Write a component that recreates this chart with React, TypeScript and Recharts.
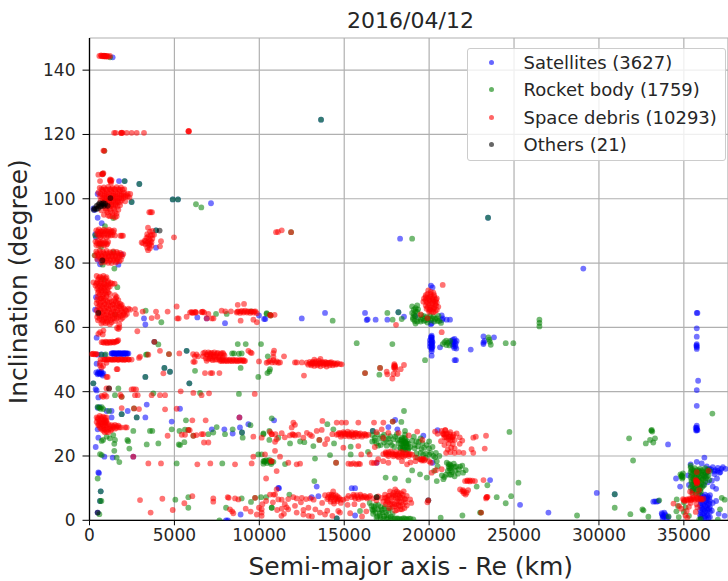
import React from "react";
import {
  ScatterChart,
  Scatter,
  XAxis,
  YAxis,
  CartesianGrid,
  Legend,
} from "recharts";

const FONT = "'DejaVu Sans', sans-serif";
const xTicks = [0, 5000, 10000, 15000, 20000, 25000, 30000, 35000];
const yTicks = [0, 20, 40, 60, 80, 100, 120, 140];

// [semi-major axis km, inclination deg]
const satellites = [
  [1365,144],[480,101.5],[1740,105.5],[2070,105.5],[2935,104.6],[2480,99],[4900,99.8],[5210,99.8],[7155,98.6],
  [230,97],[300,96.5],[480,94.1],[720,92.4],[340,89],[380,88],[1895,82.7],[1700,79.5],[620,79.6],[480,81],[3917,90.2],[3917,84.8],
  [13635,124.6],[18290,87.6],[23470,94.1],[29080,78.3],[383,69.4],[330,65.5],[3210,62.8],[3290,60.9],[6350,63.1],[6900,62.8],[7980,61.3],[9980,63.7],[10355,62.6],[420,56.8],
  [1300,51.9],[1390,51.9],[1480,52],[1570,51.8],[1660,51.9],[1750,52],[1840,51.8],[1930,51.9],[2020,52],[2110,51.8],[2200,51.9],[2290,51.9],[1450,51.4],[1700,51.4],[2000,51.4],
  [480,51.5],[700,51.6],[900,51.4],[5720,52.7],[420,48.7],[400,46],[480,45.4],[560,46.3],[620,45.6],[700,46.2],[780,45],[815,45.7],[4410,47.4],[4740,46.2],[3290,44.6],[5880,42.6],[3820,55.5],
  [225,42.6],[360,40.8],[420,40.4],[520,38.2],[480,35],[600,35.2],[1010,34],[1300,34],[1895,33],[2250,34],[3370,36],[1300,32],[2780,32],[3290,32],[4840,30.7],[5330,34.7],[8830,32],
  [480,28.3],[520,25.7],[365,22.8],[875,19.8],[1365,19.5],[2580,19.8],[7200,28.3],[7940,28.3],[8430,27],[8860,28.9],[8980,27.3],[9355,29.9],[10870,31.1],[520,14.9],[560,14.7],[660,9],[620,6],[480,2.4],[8040,0],[8150,0],[8900,1.8],[11120,10.1],
  [10280,62.6],[12500,62.8],[13870,64.5],[16225,64.5],[16325,62.3],[16380,62.5],[16850,62.4],[17540,62.4],[18190,64.7],[18520,63.3],
  [20110,73],[20200,72.4],[20150,61.3],[20100,61],[20740,63.7],[20800,62.8],[20760,62.3],[21030,62.4],[21230,62.4],[19200,63.5],
  [20150,57.4],[20150,56.8],[20150,56.2],[20150,55.6],[20150,55],[20150,54.4],[20150,53.8],[20150,53.2],[20150,52.6],[20150,51.2],[20050,56],[20050,55],[20050,54],
  [20640,53.8],[21330,55.8],[21400,56.2],[21500,56.4],[21620,55.8],[21560,55],[21420,54.2],[21480,53.6],[21600,53.4],[21350,54.8],[22450,53.1],[21580,49.8],[21500,49.8],
  [18000,31.2],[17600,29],[18130,28.3],[16680,27.8],[19660,26.3],[20210,17.9],[20500,28],[16910,17.9],[13380,10.5],[11160,10],[13085,7.2],[13480,7.5],[15640,10],[15440,10],[15640,1.5],[14560,.6],[19950,6.2],
  [23200,57.2],[23200,55.3],[23260,55.8],[23200,54.8],[23820,56.9],[35760,64.5],[35800,64.5],[35760,59.7],[35760,57.1],[35760,54.8],[35760,54.2],[35760,53.8],[35760,53.3],[35840,43.4],[35760,40.5],[35760,35.6],[35760,29.4],[35700,28.8],[35760,28.4],[35720,27.9],[35800,28],
  [34070,23.6],[23590,12.5],[25355,4.8],[27025,2.4],[29870,8.5],[30930,8.1],[33200,5.8],[33300,5.9],[33400,5.8],[33500,6],[33700,2.2],[33800,1.2],[33900,1.8],[34000,.8],[33750,.8],[33850,2.4],[34090,1],
  [34540,13],[34780,10.5],[36210,19.5],[35760,18.2],[35400,17.4],[36050,17.7],[36350,16.8],[36500,16],[36700,16.5],[36850,15.6],[37000,16.3],[37150,15],[37300,16.5],[37450,16],[36800,14.4],[37100,14.8],[36400,15],[36950,13],[36650,12.3],[36250,13.6],[36400,11.8],[36700,10.5],[36900,9.8],[36150,11],
  [35960,8],[36100,7.6],[36250,8],[36400,7.5],[36540,7.8],[35960,6.2],[36100,6.6],[36250,6],[36400,6.4],[36540,6],[35960,4.6],[36100,5],[36250,4.4],[36400,4.8],[36540,4.2],[35960,3.2],[36100,3.4],[36250,2.8],[36400,3.3],[36540,2.6],[35960,1.6],[36100,1.9],[36250,1.2],[36400,1.6],[36000,.4],[36300,.4],[36540,1],
  [36700,5.4],[36650,3],[37050,2],[37400,1.4],[35300,11],[35250,14],[35500,9.3],[36900,6],
];

// overlapping objects where the picture saturates to solid blue
const satelliteCores = [
  [1320,51.9],[1420,52],[1520,51.8],[1620,52],[1720,51.8],[1820,52],[1920,51.8],[2020,51.9],[2120,52],[2220,51.8],[500,45.8],[580,45.6],[650,46],[740,45.5],
  [20150,57],[20150,56],[20150,55.2],[20150,54.6],[20150,53.6],[20100,57],[20200,55.4],[20200,54],[21400,55.4],[21500,55.6],[21450,54.8],[21550,54.2],[33760,1.4],[33850,1],[33950,1.4],[33720,1.8],
  [36000,7],[36200,7.2],[36350,6.9],[36500,7],[36000,5.4],[36200,5.4],[36350,5.6],[36500,5.2],[36050,3.9],[36200,3.6],[36350,3.9],[36500,3.6],[36000,2.4],[36200,2.2],[36350,2.4],[36000,1],[36200,.8],[36450,.8],[36600,15.8],[36800,15.2],[37000,15.4],[37200,16],
  [35760,28.2],[35760,28.8],[35740,54.4],
];

const rocketBodies = [
  [1210,144],[875,144.4],[875,114.9],[775,107.8],[2070,105.5],[2935,104.6],[2480,99],[4900,99.8],[5210,99.8],[6270,98.3],[6585,97.3],[910,91.5],[1400,94],[340,88.6],[600,86],[680,85],[300,82.4],[1463,78.3],[780,79.5],[1400,83.4],[11870,89.6],
  [3917,90.2],[13635,124.6],[19000,87.6],[23470,94.1],[800,75],[1640,72.5],[3308,65.2],[4230,61.6],[7450,64.2],[8080,64.2],[9500,65],[10430,64.2],[10670,63.7],[1500,64],[4055,54.7],[3820,55.5],[3330,51.5],[3400,51.6],[4680,51.7],[10100,54.8],[8400,51.9],[8510,51.9],[8800,51.8],[8960,51.9],[8730,54.8],[9200,54.8],
  [700,51.5],[950,51.6],[5720,52.7],[10500,51],[10630,47],[10475,45.8],[10590,46.3],[9940,44.6],[8900,47.4],[6214,46.5],[4410,47.4],[4740,46.2],[3290,44.6],[5880,42.6],[225,42.6],[1700,41],[1500,38.9],[1895,38.4],[3760,39.5],[6510,39.6],[8800,39.3],
  [480,35.3],[560,35],[650,34.7],[720,35.2],[815,34.6],[1150,34],[1895,33],[2780,32],[2620,34.8],[1010,26],[1200,25.5],[1400,26.5],[1500,25],[715,24.7],[800,25],[2230,25],[2280,24.6],[2580,27.8],[1460,23.8],[2347,22.3],[1460,21.6],[1600,19.5],[1757,18.1],[620,20.6],[720,20.3],[3370,23.6],[4055,23.9],[3560,27.8],[3700,27.8],[4840,28.3],[5300,27.8],[5680,31.1],[5330,23.4],[5260,23.6],[5585,24.3],[5820,28.1],[6115,26.3],[5620,28.2],[7000,26.8],[7290,27.3],[7490,29],[7980,26.8],[8430,28.3],[8980,27.3],[9020,25.7],[9480,29.6],[10240,27],[10590,27.8],[10590,25],[10730,31.7],
  [5134,17.7],[7820,17.7],[9940,20.5],[10140,20.5],[10300,18.5],[10450,17.8],[10600,18.8],[10700,17.5],[10830,18.2],[10240,17.6],[480,13],[660,9],[620,6],[700,6],[580,1.9],
  [5055,6.4],[5820,7.2],[5820,3.9],[8960,6.8],[8040,3.9],[7650,0],[9510,5.7],[9750,7],[10100,7.2],[10400,7.2],[10730,3.9],
  [10435,64.4],[10630,63.9],[14320,62.1],[17540,64.5],[17850,62.4],[18190,64.7],[18385,62.6],
  [19000,66.5],[19100,65.5],[19000,64.5],[19150,63.5],[19050,62.5],[19300,66.8],[19300,64.8],[19350,63],[19300,61.8],[19550,63.8],[19500,62.4],[19700,63.5],[19700,62],[19850,63.2],[19900,61.5],[20050,63.6],[20100,62.2],[20250,63.4],[20300,61.8],[20450,62.8],[20550,63.6],[20600,62],[20700,61.4],[19200,61.2],
  [15735,55.1],[17835,54.8],[19760,49.8],[20800,54.8],[20900,55.4],[21000,55.9],[21100,55.2],[21200,54.4],[21020,54.5],[21230,55.8],[17110,47.4],[17070,45.3],[16225,45.8],
  [18520,34],[17855,30.7],[18365,30.6],[14007,29.9],[14360,28.3],[10240,26.8],[11120,25.7],[11810,23.9],[12400,24.5],[12650,24.3],[13536,25],[13183,23.1],[14400,23.9],[15380,22.9],[18580,27.8],[16680,27.8],
  [16650,26.5],[16800,25.6],[16650,24.5],[16900,24],[16950,26.8],[17100,25.4],[17150,23.4],[17350,26.6],[17450,25],[17500,23.2],[17700,26.2],[17700,24.2],[17900,25.2],[17950,22.8],[18100,26.8],[18200,24],[18300,22.4],
  [18300,25],[18400,25.7],[18500,24.8],[18600,25.2],[18700,24.6],[18350,23.8],[18500,23.6],[18650,23.4],[18800,23.8],[18880,22.8],[18300,22.6],[18450,22.2],[18600,22],[18750,21.8],[18580,26.6],[18580,24],
  [19100,26],[19250,24.5],[19350,23],[19150,22.4],[19500,25.5],[19600,24],[19700,22.6],[19500,21],[19800,20.8],[20000,24.5],[20000,22.4],[20100,21],[20250,20],[20350,19.6],[19300,19.5],[19800,19.4],[20450,18.4],
  [21040,17.9],[21150,17.5],[21230,17.4],[21300,16.9],[21450,17.6],[21600,16.8],[21820,16.7],[21950,17],[21200,16.2],[21100,15.4],[21350,15],[21550,15.4],[21700,14.5],[21200,14.2],[21500,13.7],[22000,14.8],[20840,12.8],[20900,13.5],[20450,12.2],[19857,13.3],[19465,14.3],[19000,15.5],[18780,12.4],[17440,13.3],[17990,13],[13240,12.2],[14165,20.3],[13280,19.2],[14520,17.9],[11514,17.5],[10240,18.4],[10400,18.7],[10730,18.2],[15380,20.5],[16400,21.3],[22800,10.5],[20680,.8],[21960,1.5],[23000,2.4],
  [16910,7.2],[10730,3.9],[11770,8],[15930,2.9],[14560,.6],[19950,6.2],
  [16600,4.5],[16800,3.4],[16700,2],[16950,1.2],[17000,4.8],[17200,3.2],[17150,.6],[17400,4.2],[17450,2.4],[17600,.9],[17700,3.6],[17850,2],[17900,.4],[18100,.6],[18300,.3],[18500,.7],[18700,.3],[18900,.5],[19070,.3],[16500,5.4],[17100,2.2],[17350,1.2],
  [26494,62.4],[26494,61.4],[26494,60.3],[23490,56.9],[23540,56.2],[23580,55.5],[23630,54.6],[24510,55.1],[24960,55.1],[36680,33.2],[24730,27.5],[31775,25.5],[33110,28.1],[33140,27.6],[33080,27.9],[33300,25.5],[33010,25],[32760,23.9],[33200,24.2],[32010,18.6],
  [23430,10.9],[23980,7.2],[25260,11.7],[24825,7.5],[24510,5.3],[23060,2.4],[28710,1.5],[30930,8.1],[30930,3.9],[31850,1.9],[32620,3.1],[32560,3.4],[32910,1.1],[33550,6.2],[34580,6.5],[34560,2.8],[34650,4.5],[34700,1],[34100,1.2],
  [34880,13.8],[34800,14.3],[34900,13],[34950,14.6],[35400,16.4],[35500,15.8],[35650,16.2],[35800,15.7],[35950,16],[36100,15.6],[36250,16.2],[36400,15.8],[36540,15.3],
  [35400,15],[35550,14.6],[35700,14.8],[35850,14.4],[36000,14.8],[36150,14.2],[36300,14.6],[36450,14],[35400,13.4],[35550,13],[35700,13.3],[35850,12.8],[36000,13.2],[36150,12.7],[36300,13.1],[36500,12.5],
  [35450,11.8],[35600,11.4],[35750,11.7],[35900,11.2],[36050,11.6],[36200,11],[35400,10.2],[35550,9.9],[35700,10.1],[35850,9.6],[36000,10],[35500,8.6],[35700,8.4],[35850,8.1],[36000,8.8],[35000,5.6],[35100,4],[35000,2.6],[35300,1.4],[35900,.2],[36000,.4],[37230,7],[37130,3.4],[37400,6.4],[37000,.2],[35400,17],
];

// overlapping objects where the picture saturates to solid dark green
const rocketCores = [
  [16700,3],[16850,2.4],[17000,3.4],[17100,1.4],[17250,2.4],[17350,3.6],[17500,1.6],[17600,3],[17750,1.2],[16900,.8],[17300,.4],[17500,.4],[17750,.4],[18000,.5],[18200,.5],[18400,.4],[18600,.5],[18800,.5],[16750,4.2],[16850,4.8],[17150,4.2],[16650,3.4],
  [18400,24.6],[18500,24],[18600,24.4],[18700,23.8],[18450,23],[18550,22.8],[18700,22.8],[18400,25.2],[18550,25.6],[18650,24],[18800,22.4],[18500,21.8],
  [16800,24.8],[17000,23.2],[17250,26],[17350,24.2],[17600,25.4],[17800,23.4],[18000,26],[18150,25],[19000,24.8],[19150,23.4],[19400,24.4],[19550,22.2],[19850,23.4],[19250,20.8],[19650,20.4],[20000,20.4],[20200,22.8],[20400,21],[20600,20],[20500,16.8],[20750,14],[20300,15.4],[21000,14.2],[21300,14.2],[21750,15.8],[22150,15.6],
  [19100,64],[19200,65],[19350,65.6],[19500,61.8],[19650,62.8],[19800,62.2],[19950,62.6],[20150,62.8],[20350,62.6],[19050,63],[19150,62],[19200,66],[20500,62],
  [35450,15.6],[35600,15.4],[35750,15.2],[35900,15.4],[36050,15.2],[36200,15],[36350,15.2],[35450,14],[35600,13.8],[35750,14],[35900,13.6],[36050,14],[36200,13.6],[36350,13.6],[35450,12.4],[35600,12.2],[35750,12.6],[35900,12.2],[36050,12.4],[36250,12],[35500,11],[35650,10.8],[35800,10.8],[35950,10.6],[36100,10.4],[35550,9.4],[35750,9.2],[35950,9.2],[34880,14],[34940,13.4],[34840,13.6],
  [10300,18.2],[10500,18.4],[10650,18],[21150,16.8],[21300,16.4],[21500,16.6],[21250,15.6],
];

const spaceDebris = [
  [580,144.4],[680,144.6],[760,144.3],[850,144.5],[930,144.2],[1010,144.4],[1100,144.2],[1200,144.4],
  [1540,120.5],[1855,120.5],[1900,120.6],[1950,120.5],[2190,120.5],[2480,120.5],[2780,120.5],[3210,120.5],[5820,121],[5860,121],[875,114.9],[820,115],[775,107.8],[730,107.6],[820,108],[520,107.5],[620,105.5],[1200,105.7],[1247,105.7],[1300,105.8],[1270,105],
  [10985,89.6],[11100,89.7],[11320,90.2],[11870,89.6],[3820,55.5],
  [600,103.4],[850,103.5],[1100,103.7],[1350,103.4],[1600,103.6],[1850,103.5],[2050,103],[530,102],[780,102.4],[1030,102],[1280,102.4],[1530,102],[1780,102.3],[2030,101.9],[2250,101.6],[2400,101.5],[620,100.8],[870,101],[1120,100.6],[1370,101],[1620,100.7],[1870,101],[2120,100.6],[2350,100.4],[650,99.3],[900,99.6],[1150,99.3],[1400,99.6],[1650,99.3],[1900,99.5],[2100,99.2],[800,98.2],[1050,98.3],[1300,98.2],[1550,98.4],[1800,98],[550,97.6],[950,97],[1200,96.9],[1450,97],[1700,96.6],[700,96.4],[1050,95.8],[1350,95.6],[1600,95.4],[850,95],[1200,94.6],[1500,94.2],
  [3520,95.8],[3600,95.8],[3680,95.8],
  [400,90.2],[550,90.5],[700,90],[850,90.4],[1000,90.1],[1150,90.4],[1300,90],[1450,90.2],[450,89],[600,89.2],[750,88.9],[900,89.2],[1050,88.9],[1200,89.1],[1350,88.8],[1500,88.6],[1820,88.5],[1895,88.5],[1970,88.5],[650,88.1],[1000,88],
  [3445,91],[3560,89.8],[3700,90],[3400,89],[3600,88.6],[3800,88.8],[3350,87.8],[3520,87.5],[3700,87.6],[3250,87],[3450,86.6],[3650,86.5],[3070,86.4],[3150,86.2],[3300,85.8],[3500,85.6],[3650,85.4],[3400,84.8],[3550,84.6],[3450,84],[4150,85.2],[4210,86.8],[4976,88],
  [350,86.7],[500,87],[650,86.6],[800,87],[950,86.5],[1100,86.6],[400,85.6],[550,85.5],[700,85.8],[850,85.5],[1000,85.7],
  [400,83.6],[600,83.9],[800,83.5],[1000,83.8],[1200,83.4],[1400,83.6],[1600,83.5],[1800,83.2],[1990,82.8],[330,82.4],[520,82.6],[720,82.3],[920,82.7],[1120,82.3],[1320,82.6],[1520,82.3],[1720,82.5],[1920,82.1],[450,81.3],[650,81.5],[850,81.2],[1050,81.5],[1250,81.2],[1450,81.4],[1650,81.2],[1850,81],[700,80.2],[900,80.4],[1100,80.1],[1300,80],[1550,80.2],
  [420,76],[620,75.8],[820,76],[1000,75.6],[500,74.8],[700,74.9],[900,74.6],[1100,74.4],[230,74],[450,74],[650,74.2],[850,73.6],[1050,74],[1250,73.8],[1480,73.6],[350,73],[600,73],[800,72.8],[1000,73],[1200,72.7],
  [450,72],[650,71.8],[850,72],[1050,71.6],[500,70.8],[700,71],[900,70.6],[1100,70.9],[1200,70.4],[500,69.6],[750,69.5],[1000,69.6],[1500,70],[1600,69.5],[1550,69],
  [450,68.6],[700,68.9],[950,68.5],[1200,68.8],[1450,68.4],[1700,68.5],[420,67.5],[650,67.6],[900,67.4],[1150,67.7],[1400,67.3],[1650,67.5],[1900,67],[500,66.4],[750,66.6],[1000,66.3],[1250,66.6],[1500,66.2],[1750,66.5],[2000,66],[2300,65.8],[2390,65.5],[420,65.3],[650,65.4],[900,65.2],[1150,65.5],[1400,65],[1650,65.3],[1900,65],[2150,65.2],[500,64.2],[750,64.4],[1000,64],[1250,64.3],[1500,64],[1750,64.1],[2000,64],[2200,64.2],[450,63.2],[700,63.3],[950,63],[1200,63.3],[1450,63],[1700,63.2],[1950,63],[500,62.2],[750,62.3],[1000,62.1],[1250,62.3],[700,61.2],[950,61.3],[1200,61],[1750,61],[1500,62],
  [1700,59.5],[1620,59.8],[1760,60],[620,58.5],[820,59],[520,58],[780,57.8],[2680,65.7],[2740,64.2],[3130,64.9],[3660,62.9],[3917,64.9],[3995,63.3],[2817,58.8],[4600,64.9],[5134,66.5],[5170,62.8],[5250,62.8],[5720,63.3],[5920,64.6],[6000,64.8],[6100,64.5],[6200,64.7],[6270,64.6],[6600,64.8],[6680,64.9],[6760,64.6],[6900,62.8],[7200,62.8],[7300,62.8],[7000,64.2],[7780,65.2],[8000,65],[8330,65],[8730,67],[9100,67.3],[8900,62.1],[9650,62.4],[9850,61.6],
  [8670,64.6],[8770,65],[8870,64.5],[8970,65.1],[9070,64.6],[9170,65.2],[9270,64.6],[9370,65],[9470,64.5],[9570,65],[9670,64.6],[9770,65],[9850,64.4],[10670,63.7],[10630,63.9],[10900,63.9],
  [715,55.4],[850,55.2],[950,55.6],[1050,55.1],[1150,55.5],[1250,55.2],[1350,55.6],[1450,55.3],[1550,55.6],[1640,55.8],[1690,56],[130,51.7],[220,51.8],[320,51.6],[420,51.7],[650,50],[620,49],[800,48],[815,50],[920,50],[1020,49.9],[1120,50.1],[1220,50],[1320,50],[1420,49.9],[1520,50.1],[1620,50],[1720,49.9],[1820,50.1],[1920,50],[2020,49.9],[2120,50],[2220,50.1],[2320,50],[2480,50],[1000,49],[700,47.5],[2915,50.5],[2975,50.9],[3465,51.5],[4150,52.7],[4680,51.7],[5290,51.9],[6100,51.7],[6200,51],[6300,51.6],[6400,51],[6115,49.3],[6200,49.3],[1600,47],[1650,47],[1070,44.6],[1000,44.6],[620,48.2],
  [6700,52],[6700,51],[6850,50.4],[6800,52.2],[6950,51.4],[7000,52.2],[7100,50.4],[7150,51.6],[7200,52.1],[7300,50.9],[7350,52.2],[7450,51.4],[7550,52.1],[7650,51],[7750,51.9],[7850,52.1],[7950,51.2],[7000,50.2],[7250,49.8],[7500,50],[7750,50],[6900,49.6],
  [7690,49.6],[7800,49.5],[7900,49.7],[8000,49.6],[8100,49.5],[8200,49.7],[8300,49.6],[8400,49.5],[8500,49.7],[8600,49.6],[8700,49.5],[8800,49.6],[8900,49.7],[9000,49.6],[9100,49.5],[9160,49.6],[9355,52.7],[9480,52.2],[9550,52],[9980,49.4],[6800,45.8],[7135,45.8],[7230,45.8],[7650,45.8],[4350,45.7],
  [10430,49],[10530,49.3],[10630,49.6],[10730,49.1],[10830,49.8],[10930,49.1],[11030,49.4],[11130,49],[11220,49.1],[10830,52],[10870,52.8],[10830,50.8],[11455,51],[12100,49.1],[12500,49.1],[12630,45],[12200,49.1],
  [12790,49],[12880,48.4],[12970,49.3],[13060,48.2],[13150,49.3],[13240,48],[13330,49.4],[13420,48.2],[13510,49.6],[13600,47.9],[13690,49.2],[13780,48.3],[13870,49.3],[13960,47.8],[14050,49],[14140,48.2],[14230,49.2],[14320,48.2],[14410,48.9],[14500,48.4],[14600,48.9],[14750,48.6],[14850,48.5],[13240,50],[13600,50.2],[13100,48.7],[13500,48.7],[13900,48.6],
  [16225,45.8],[17110,47.4],[17500,46.2],[17540,45.4],[17835,44.1],[17950,48.6],[18000,48],[17920,47.5],[18000,47],[18130,45.5],[17900,45.5],[18325,47],[18520,48.3],
  [19800,70],[19950,71.5],[20100,71],[20250,70.8],[19700,69],[19900,69],[20100,69.6],[20300,69.4],[20450,69],[19660,68],[19850,67.8],[20050,68.2],[20250,68],[20450,67.7],[19800,66.8],[20000,67],[20200,66.6],[20400,66.8],[20540,66.4],[19850,65.8],[20050,65.6],[20250,65.8],[20450,65.4],[20000,64.8],[20250,64.7],[20800,73.2],[20740,58.5],[18050,60.8],[19500,64],[19900,62.9],
  [1000,41],[1150,41],[2480,40.7],[2600,40.8],[2740,40.7],[2680,38.9],[2840,38.9],[715,38.7],[800,38.4],[900,39],[1000,38.5],[1895,38.4],[1820,39],[3660,38.9],[4150,38.9],[4450,38.9],[5370,40.1],[6115,39.6],[6600,38.9],[7040,39.5],[9730,39.3],[1895,34.9],[2620,34.8],[2915,34.6],[4450,34.5],[5134,34.7],
  [420,32],[600,32.5],[800,32.2],[1000,32],[500,31.4],[700,31.5],[900,31.2],[1000,31],[420,30.6],[620,30.4],[820,30.4],[1000,30.5],[520,29.6],[700,29.9],[900,29.6],[1100,29.9],[1300,29.6],[1500,29.7],[1700,29.4],[620,28.8],[800,28.6],[1000,28.9],[1200,28.6],[1400,28.9],[1600,28.8],[1850,28.9],[2190,28.9],[2100,28.9],[800,27.9],[1000,27.7],[1250,27.9],
  [3465,17.7],[4210,17.7],[6350,17.4],[7115,17.7],[8570,17.4],[9550,17.7],[9650,19.8],[10690,18.5],[11020,15.3],[10400,13],[2580,19.8],[2975,6.3],[4290,6.7],[3600,2.4],[4900,3.2],[6055,7.5],[5585,5.3],[7290,6.8],[7290,5.8],[8140,7.2],[8200,7],[8570,6.8],[8765,6.5],[8270,3.4],[8470,2.2],[8400,2.8],[9200,3.6],[9490,2.7],[9750,7],[9845,1.8],[10140,2.4],[9980,3.9],[10180,5],[10830,8],[11020,9.6],[11120,6.5],
  [4600,26.3],[5430,26.6],[5625,26.6],[5820,28.1],[5900,28],[6055,31.1],[6840,31.1],[6115,26.3],[6300,26.5],[6600,26.8],[6700,26.8],[6740,24.2],[7000,24.2],[8830,32],[9650,26],[10140,25.7],[10730,26.8],[11020,25.2],
  [10630,27.5],[10730,26.8],[11320,27.1],[10925,24.4],[12005,26.6],[11950,26.8],[12100,26.4],[12985,26.6],[12594,25.7],[13536,25],[13870,23.7],[14950,22.6],[15830,23.1],[13715,30.9],[14557,30.4],[14850,30.4],[15107,30.4],[15830,30.4],[16755,30.4],[17305,30.4],[17855,30.7],[12005,30.4],[11907,28.9],[12100,29.7],[13675,28.1],[13380,27.8],[17207,28.3],
  [14560,26.6],[14700,27.2],[14800,26],[14950,27.4],[15050,26.2],[15200,27.6],[15300,26.1],[15450,27.3],[15550,25.9],[15700,27.2],[15800,26.1],[15950,27],[16050,26],[16200,26.9],[16300,26.3],[16420,26.6],[15150,26.8],[15400,26.7],[15650,26.6],[15900,26.5],
  [17300,20.6],[17450,21.2],[17600,20],[17750,21.4],[17900,19.9],[18050,21.2],[18200,19.6],[18350,21.3],[18500,19.8],[18650,21],[18800,20],[18880,20.6],[17500,20.4],[17800,20.5],[18100,20.5],[18400,20.5],[18700,20.5],[19200,19.6],[19200,18.4],[19470,19],[19560,18.6],[19650,19.2],[19760,18.9],[18900,18],[18700,17.4],
  [10925,21.6],[11220,19.8],[10335,20.5],[10730,18.3],[12400,17.6],[12200,17.4],[11710,17.9],[15245,17.6],[15400,17.5],[15550,17.7],[15700,17.4],[15850,17.6],[15930,17.5],[14520,17.9],[16620,17.9],[16750,17.8],[16910,17.9],[17600,17.9],[20100,17.9],[20150,14.8],[20740,15.9],
  [20350,27.6],[20500,26.9],[20740,27.8],[20850,26.8],[20950,28],[21050,27],[21150,26],[20900,25.8],[21250,27.4],[21350,25.8],[21450,26.6],[21620,27],[21020,25],[21250,25],[21500,25],[21150,23.8],[21400,23.7],[21300,22.6],[21500,22.4],[20900,23.4],[20700,24.6],[21100,22],[21000,21],[21250,21.2],[21500,21],[21750,21.2],[22020,21],[21800,25.8],[21950,24.8],[21800,23.8],[22600,25.7],[22750,26],[22500,22.1],[22600,21],[23350,26.3],[23275,22.3],[18880,6.5],[18950,5.4],
  [22115,12.2],[22250,12.4],[22400,12.1],[22550,12.3],[22700,12.2],[21820,9.6],[21950,9],[22050,8.4],[22150,8],[22210,8.6],[22300,9.4],[23200,12.5],[23390,7.2],[23350,6.8],[23440,7.3],[23060,2.4],
  [10630,8],[10925,8],[11320,6.4],[11500,5],[11610,4],[11320,3.6],[11450,2],[11700,6.6],[12005,7.2],[12200,6.8],[12500,7],[12100,4.5],[12200,2.4],[12890,3.9],[12594,1.8],[12900,1.4],[12750,6.6],[13000,6.8],[13200,6.4],[13575,2.4],[13870,1.8],[14650,2.9],[14750,2.4],[10140,3.4],[10140,1.4],
  [13870,7.8],[14000,6.6],[14100,8],[14200,5.8],[14300,7.2],[14400,5.2],[14500,7.8],[14600,6],[14700,7],[14800,5.4],[14950,6.4],[14200,7.4],[14500,6.6],[14350,9],
  [15440,7.2],[15550,8],[15650,6.8],[15750,7.8],[15850,6.6],[15950,8],[16050,7],[16200,7.6],[16350,6.8],[16520,7.6],[16700,6.8],[16900,6.2],[15150,6.8],[15250,7.6],[17000,7.4],[17200,7],
  [17400,8],[17550,6.4],[17700,9],[17800,5.2],[17900,7.6],[18000,9.6],[18100,6],[18200,8.6],[18300,4.4],[18400,7],[18500,9],[18600,5.6],[18680,7.6],[17450,5],[17650,3.8],[17800,7],[17950,5],[18100,3.2],[18250,5.8],[18400,3.4],[18550,3.8],[18680,4.6],[17600,7.6],[18000,7.8],[18300,7],[18000,3],[18150,8.2],[17300,5.8],[19950,6.2],[19900,5.6],
  [34390,5.2],[34720,4.4],[34950,6.6],[35050,6],[35150,6.5],[35250,6.1],[35350,6.8],[35450,6.3],[35550,6.9],[35650,6.4],[35750,7],[35850,6.5],[35950,6.9],[36050,6.4],[36150,6.7],[35760,12.2],[35760,11.4],[35800,11.8],[35700,12.6],[36450,15.4],[35760,15],[35370,8.9],[35500,8.3],[35170,2.9],[35100,1.5],[35200,.8],[34850,3.6],[35400,5.4],[35750,5],[35800,4],[35300,4.2],[35700,2.6],[35760,8],[35900,9.4],
];

// overlapping objects where the picture saturates to solid red
const debrisCores = [
  [700,144.4],[800,144.4],[900,144.4],[1000,144.4],[1450,120.5],[1870,120.4],[5840,121],[1250,105.4],[1220,106],[780,107.6],
  [700,103],[950,103],[1200,103],[1450,103],[1700,103],[1950,102.8],[650,101.6],[900,101.6],[1150,101.6],[1400,101.6],[1650,101.6],[1900,101.5],[2150,101.2],[750,100.2],[1000,100.2],[1250,100.2],[1500,100.2],[1750,100.2],[2000,100.2],[2250,100.8],[800,99],[1050,99],[1300,99],[1550,99],[1800,99],[900,97.6],[1150,97.6],[1400,97.6],[1650,97.6],[1000,96.4],[1250,96.2],[1500,96],[1100,94.8],[1350,94.6],[1600,94.6],
  [780,102.8],[1020,102.8],[1280,102.9],[1520,102.9],[1780,102.8],[770,101.2],[1020,101.3],[1270,101.2],[1520,101.2],[1770,101.2],[2020,101],[870,100.3],[1120,100.1],[1370,100.3],[1620,100.2],[1870,100.2],[920,99.2],[1180,99.1],[1420,99.2],[1680,99],[1000,98.1],[1270,97.9],[1520,97.9],
  [500,89.8],[650,89.8],[800,89.8],[950,89.8],[1100,89.8],[1250,89.6],[1400,89.6],[550,88.6],[700,88.6],[850,88.6],[1100,88.4],[1250,88.6],
  [3450,88.2],[3600,87],[3400,86.2],[3550,86],[3300,86.8],[3700,88.8],
  [450,86.2],[600,86.2],[750,86.2],[900,86.1],[1050,86],
  [450,83],[650,83.2],[850,83],[1050,83],[1250,83],[1450,83],[1650,83],[1850,82.6],[550,82],[750,82],[950,82],[1150,82],[1350,82],[1550,81.9],[1750,81.9],[800,80.9],[1000,80.8],[1200,80.8],[1400,80.8],[1600,80.7],[1750,80.6],
  [550,75.4],[750,75.4],[950,75.2],[400,73.6],[550,73.6],[700,73.5],[900,73.4],[1150,73.4],[1350,73.6],[500,72.6],[700,72.4],[900,72.4],[1100,72.4],[550,71.4],[750,71.4],[950,71.3],[600,70.2],[800,70.2],[1000,70.2],[650,69],[850,69],
  [550,68],[800,68.2],[1050,68],[1300,68],[1550,68],[1800,67.4],[600,67],[850,67],[1100,67],[1350,67],[1600,66.9],[1850,66.6],[600,65.9],[850,65.9],[1100,65.9],[1350,65.8],[1600,65.9],[1850,65.8],[2100,65.6],[550,64.8],[800,64.8],[1050,64.8],[1300,64.7],[1550,64.7],[1800,64.6],[2050,64.6],[600,63.7],[850,63.7],[1100,63.7],[1350,63.7],[1600,63.6],[1850,63.6],[2100,63.7],[600,62.7],[850,62.7],[1100,62.7],[1350,62.7],[1600,62.7],[1850,62.5],[800,61.7],[1050,61.7],[1300,61.6],
  [800,55.4],[1000,55.4],[1200,55.4],[1400,55.4],[1600,55.6],[900,50],[1100,50],[1300,50],[1500,50],[1700,50],[1900,50],[2100,50],[2300,50],[170,51.7],[370,51.7],
  [6900,51.6],[7100,51.9],[7300,51.6],[7500,51.8],[7700,51.6],[7900,51.7],[7100,51],[7400,50.8],[7600,50.6],[7850,50.6],[7200,50.2],[7400,50],[7650,50],[7850,49.9],[8050,49.9],[8250,50],[8450,50],[8650,49.9],[8850,49.9],[9050,49.9],
  [8700,64.9],[8900,64.9],[9100,64.9],[9300,64.9],[9500,64.9],[9700,64.9],[6050,64.6],[6250,64.8],[6640,64.7],
  [13000,48.7],[13200,48.7],[13400,48.7],[13600,48.7],[13800,48.8],[14000,48.7],[14200,48.7],[13100,49],[13300,49],[13550,49],[13750,49],[13950,49],[14150,49],[14350,48.7],[14550,48.6],
  [17960,47.8],[18000,47.4],[17950,48.2],
  [19900,70.4],[20100,70.3],[20300,70],[19800,69.4],[20000,69.4],[20200,69],[20400,68.6],[19800,68.4],[20000,68.6],[20200,68.5],[20350,68],[19950,67.5],[20150,67.5],[20350,67.3],[19900,66.3],[20100,66.2],[20300,66.2],[20000,65.4],[20150,65.1],[20350,65],
  [500,31.8],[700,32],[900,31.9],[600,31],[800,31],[950,30.6],[520,30],[720,30.3],[920,30.2],[620,29.4],[820,29.3],[1000,29.4],[1200,29.3],[1400,29.3],[1600,29.3],[700,28.4],[900,28.3],[1100,28.3],[1300,28.3],[1500,28.5],[1750,28.9],[900,27.4],[1100,27.4],
  [14650,26.8],[14850,26.6],[15050,26.9],[15250,26.6],[15450,26.4],[15650,27],[15850,26.9],[16100,26.5],[16250,26.6],[14800,27],[15000,27],[15300,27],[15550,26.8],
  [17450,20.8],[17650,20.6],[17850,20.9],[18050,20.4],[18250,20.8],[18450,20.9],[18600,20.3],[18800,20.6],[17600,21.2],[18150,20],[18400,20],[17950,20.4],[19500,19],[19600,18.9],[19700,18.6],
  [20800,27],[21000,26.8],[21200,26.8],[21000,25.8],[21250,26],[21400,26],[20900,26.6],[21150,25.4],[21350,25],[20950,28],
  [22250,12.2],[22400,12.4],[22050,9],[22000,9.4],[23380,7.2],
  [14050,7.2],[14200,6.6],[14350,7.8],[14500,7],[14650,6.6],[14800,6.4],[14250,8],[14400,6],[14600,7.4],[15600,7.4],[15800,7.2],[16000,7.4],[16150,7.2],[16300,7.2],[16450,7.2],
  [17500,7],[17650,7.6],[17800,6],[17900,8.6],[18050,7],[18150,6.8],[18250,7.6],[18350,5.6],[18450,8],[18550,6.6],[17500,6],[17700,5],[17850,4.2],[18000,4.4],[18200,4.6],[18300,3.4],[18450,5],[18600,6.6],[17400,7],[17600,5.6],[17850,8],[18100,5],[18100,9],[18350,8.4],
  [35000,6.3],[35200,6.4],[35400,6.5],[35600,6.6],[35800,6.7],[36000,6.6],[35760,11.8],[35760,12],[35720,12.2],[35500,7],
];

// sparser debris between the clusters
const debrisScatter = [
  [10400,6],[10800,5.6],[11050,3.2],[11300,1.4],[11700,3.4],[12450,5.6],[12600,3.2],[13100,1.2],[13300,3.4],[13700,5.4],[14000,3],[14300,1.4],[15200,4.8],[15600,5],[15350,2.2],[16100,4.6],[16300,2.8],[16050,1.2],
  [10950,26.8],[11500,25.8],[11800,26.4],[12300,26.6],[12800,27.2],[13100,26.2],[14000,25.2],[14300,26.8],[16900,27.4],[17300,25.6],[17600,27.2],[18200,27.2],[18800,26.4],[19300,27.6],[19600,25],[16800,22.8],[16000,20.5],[16500,20.5],[17000,19],[17300,18.4],[18400,18.4],[19000,20.4],[20000,18.4],[20400,15.6],
];

const others = [
  [1230,100.2],[1070,97.8],[300,97],[420,97.8],[400,96.8],[520,98.2],[500,97],[620,97.6],[600,98.6],[720,98.4],[700,97.8],[820,98.6],[850,97.8],[756,80.8],[520,64.5],[480,2.4],[16910,7.2],[4130,90.1],[1150,41],[250,96.6],[920,98.4],
];

const seriesNames = ["Satellites (3627)", "Rocket body (1759)", "Space debris (10293)", "Others (21)"];
const seriesColors = ["#0000ff", "#008000", "#ff0000", "#000000"];
const seriesValues = [
  [...satellites, ...satelliteCores],
  [...rocketBodies, ...rocketCores],
  [...spaceDebris, ...debrisCores, ...debrisScatter],
  others,
];

function LegendBox(props: any) {
  return (
    <div
      style={{
        boxSizing: "border-box",
        width: 259,
        height: 113,
        background: "rgba(255,255,255,0.8)",
        border: "1px solid #cccccc",
        borderRadius: 3,
        fontFamily: FONT,
        fontSize: 18,
        color: "#262626",
      }}
    >
      {props.payload.map((entry: any) => (
        <div key={entry.value} style={{ height: 27.3, display: "flex", alignItems: "center", whiteSpace: "nowrap" }}>
          <span
            style={{
              marginLeft: 21.5,
              width: 5,
              height: 5,
              borderRadius: 3,
              background: entry.color,
              opacity: 0.6,
              flex: "none",
            }}
          />
          <span style={{ marginLeft: 29.5 }}>{entry.value}</span>
        </div>
      ))}
    </div>
  );
}

function Dot(props: any) {
  return <circle cx={props.cx} cy={props.cy} r={2.9} fill={props.fill} fillOpacity={0.55} />;
}

export default function App() {
  return (
    <div style={{ position: "absolute", left: 0, top: 0, background: "white" }}>
      <ScatterChart width={728} height={581} margin={{ top: 38, right: 0, bottom: 0, left: 0 }}>
        <CartesianGrid stroke="#b0b0b0" strokeWidth={1.2} />
        <XAxis
          type="number"
          dataKey="x"
          domain={[0, 37600]}
          ticks={xTicks}
          interval={0}
          allowDataOverflow
          height={60.7}
          tickSize={5}
          tickMargin={4}
          tick={{ fontFamily: FONT, fontSize: 17, fill: "#262626" }}
          axisLine={{ stroke: "#000", strokeWidth: 1.3 }}
          tickLine={{ stroke: "#000" }}
          label={{
            value: "Semi-major axis - Re (km)",
            position: "insideBottom",
            offset: 6,
            dx: 2,
            style: { fontFamily: FONT, fontSize: 25, fill: "#262626" },
          }}
        />
        <YAxis
          type="number"
          dataKey="y"
          domain={[0, 150]}
          ticks={yTicks}
          interval={0}
          allowDataOverflow
          width={89.5}
          tickSize={7}
          tickMargin={7}
          tick={{ fontFamily: FONT, fontSize: 17, fill: "#262626" }}
          axisLine={{ stroke: "#000", strokeWidth: 1.3 }}
          tickLine={{ stroke: "#000" }}
          label={{
            value: "Inclination (degree)",
            angle: -90,
            position: "insideLeft",
            offset: 18,
            dy: 125,
            style: { fontFamily: FONT, fontSize: 25, fill: "#262626" },
          }}
        />
        <Legend
          layout="horizontal"
          align="center"
          verticalAlign="middle"
          itemSorter={null}
          content={<LegendBox />}
          wrapperStyle={{ left: 466.5, top: 48, width: 259, height: 113 }}
        />
        {seriesNames.map((name, i) => (
          <Scatter
            key={name}
            name={name}
            data={seriesValues[i].map(([x, y]) => ({ x, y }))}
            fill={seriesColors[i]}
            shape={<Dot />}
            isAnimationActive={false}
          />
        ))}
        <text x={410.5} y={28} textAnchor="middle" fontFamily={FONT} fontSize={22} fill="#262626">
          2016/04/12
        </text>
      </ScatterChart>
    </div>
  );
}
